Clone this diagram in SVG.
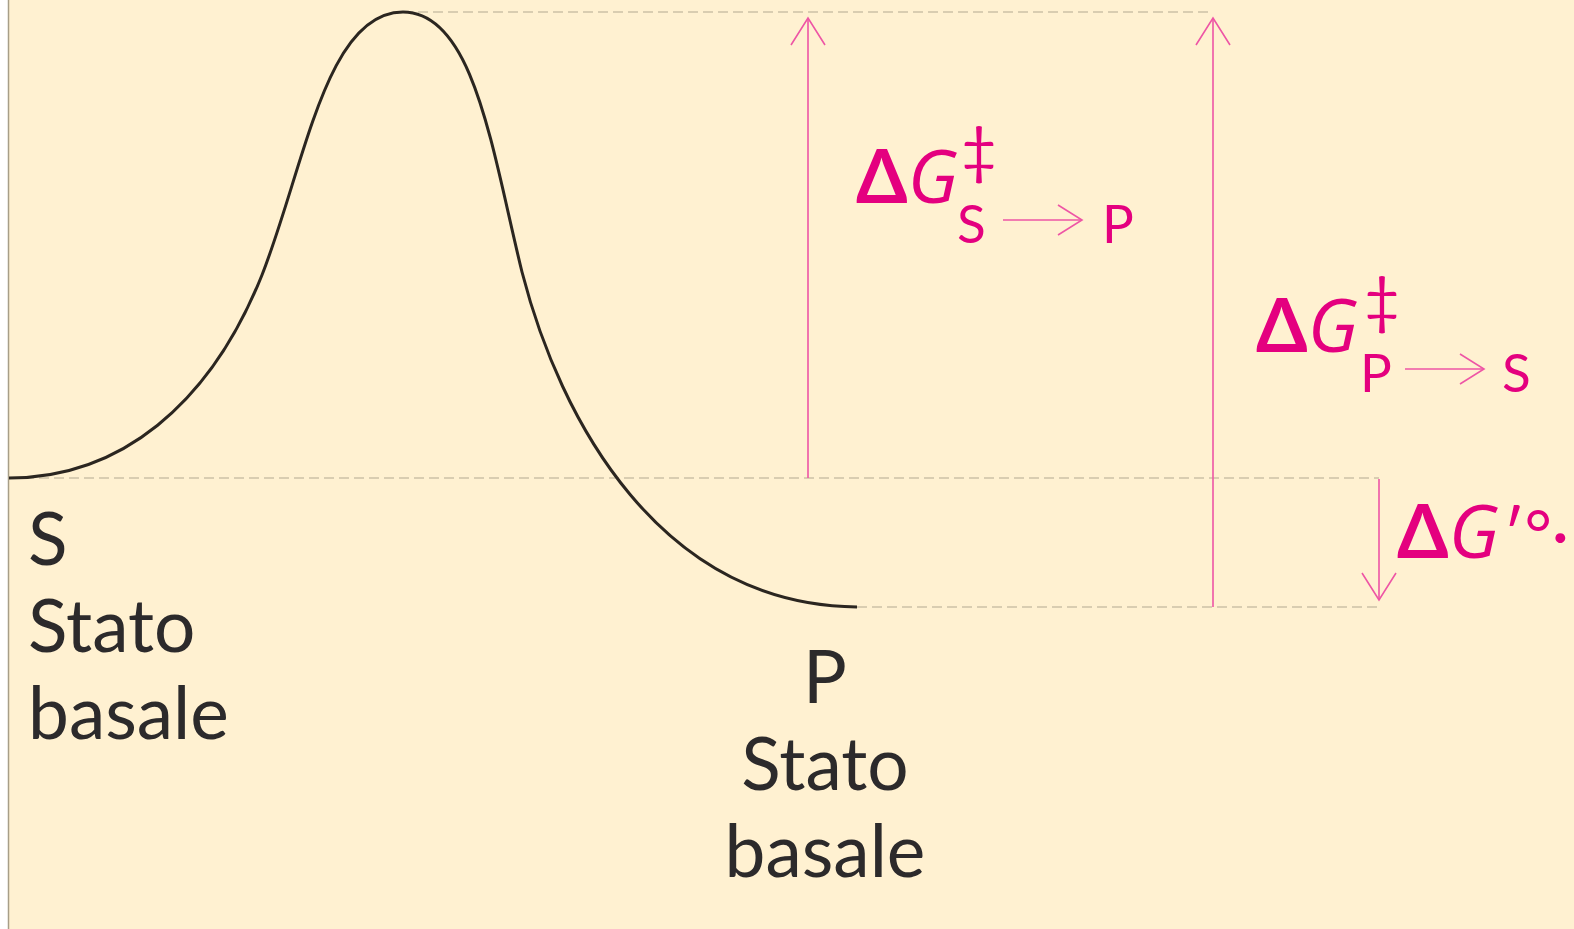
<svg xmlns="http://www.w3.org/2000/svg" width="1574" height="929" viewBox="0 0 1574 929">
<style>
.dash{stroke:#b3a992;stroke-width:1.2;stroke-dasharray:10 5;fill:none}
.arr{stroke:#ee55a5;stroke-width:1.6;fill:none}
.lbl{font-family:Lato,"Open Sans","Liberation Sans",sans-serif;fill:#2c2a2b;font-size:73px}
.mag{font-family:Lato,"Open Sans","Liberation Sans",sans-serif;fill:#e4007f}
.it{font-family:"Open Sans","Liberation Sans",sans-serif;font-style:italic}
</style>
<rect x="0" y="0" width="1574" height="929" fill="#ffffff"/>
<rect x="8" y="0" width="1566" height="929" fill="#fff1d1"/>
<line x1="8.5" y1="0" x2="8.5" y2="929" stroke="#a79e88" stroke-width="1.5"/>
<g id="guides">
<line class="dash" x1="403" y1="12" x2="1213" y2="12"/>
<line class="dash" x1="9" y1="478" x2="1379" y2="478"/>
<line class="dash" x1="857" y1="607" x2="1379" y2="607"/>
</g>
<g id="curve">
<path d="M9,478 C120,478 210,405 262,275 C305,165 326,12 403,12 C474,12 492,150 522,272 C560,420 660,605 857,607" fill="none" stroke="#2b2620" stroke-width="3"/>
</g>
<g id="connectors">
<line class="arr" x1="808" y1="478" x2="808" y2="18"/>
<polyline class="arr" points="791,45 808,18 825,45"/>
<line class="arr" x1="1213" y1="607" x2="1213" y2="18"/>
<polyline class="arr" points="1196,45 1213,18 1230,45"/>
<line class="arr" x1="1379" y1="479" x2="1379" y2="600"/>
<polyline class="arr" points="1362,573 1379,600 1396,573"/>
</g>
<g id="node-S">
<text class="lbl" x="28" y="565">S</text>
<text class="lbl" x="28" y="652">Stato</text>
<text class="lbl" x="28" y="739">basale</text>
</g>
<g id="node-P">
<text class="lbl" x="825" y="703" text-anchor="middle">P</text>
<text class="lbl" x="825" y="790" text-anchor="middle">Stato</text>
<text class="lbl" x="825" y="877" text-anchor="middle">basale</text>
</g>
<g id="label-SP">
<text class="mag" x="856" y="203" font-size="74"><tspan font-weight="bold">Δ</tspan><tspan class="it">G</tspan></text>
<text class="mag" x="961" y="172" font-size="62">‡</text>
<text class="mag" x="957" y="243" font-size="53">S</text>
<line class="arr" x1="1003" y1="220" x2="1082" y2="220"/>
<polyline class="arr" points="1058,205 1082,220 1058,235"/>
<text class="mag" x="1102" y="243" font-size="53">P</text>
</g>
<g id="label-PS">
<text class="mag" x="1256" y="352" font-size="74"><tspan font-weight="bold">Δ</tspan><tspan class="it">G</tspan></text>
<text class="mag" x="1364" y="322" font-size="62">‡</text>
<text class="mag" x="1360" y="392" font-size="53">P</text>
<line class="arr" x1="1405" y1="369" x2="1484" y2="369"/>
<polyline class="arr" points="1460,354 1484,369 1460,384"/>
<text class="mag" x="1502" y="392" font-size="53">S</text>
</g>
<g id="label-G0">
<text class="mag" x="1397" y="558" font-size="74"><tspan font-weight="bold">Δ</tspan><tspan class="it">G</tspan><tspan dx="4" font-size="66">′°·</tspan></text>
</g>
</svg>
